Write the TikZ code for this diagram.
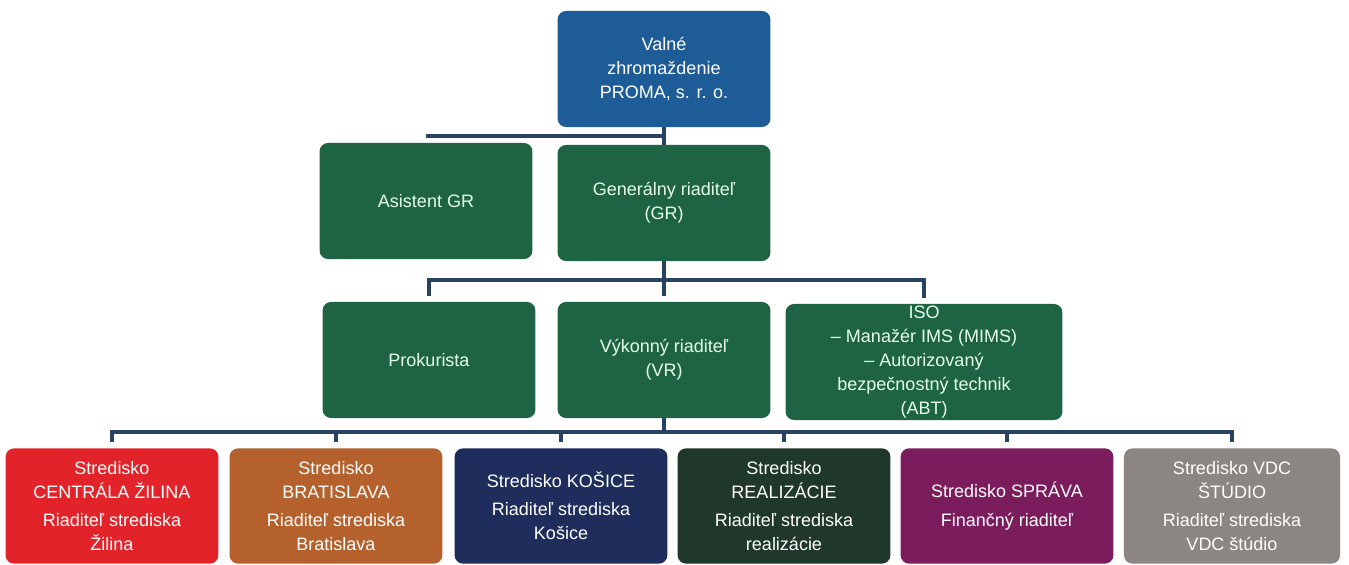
\documentclass[tikz,border=0pt]{standalone}
\usepackage{fontspec}
\setmainfont{Liberation Sans}
\usetikzlibrary{calc,positioning}

\definecolor{vzblue}{RGB}{29,92,150}
\definecolor{mgmtgreen}{RGB}{30,100,68}
\definecolor{zared}{RGB}{226,36,42}
\definecolor{babrown}{RGB}{180,97,46}
\definecolor{kenavy}{RGB}{30,45,92}
\definecolor{realgreen}{RGB}{31,56,42}
\definecolor{sppurple}{RGB}{123,29,93}
\definecolor{vdcgray}{RGB}{139,134,130}
\definecolor{linecol}{RGB}{40,66,98}

\begin{document}
\begin{tikzpicture}[x=0.025cm,y=-0.025cm,
box/.style = {rectangle, rounded corners=6pt, text=white, align=center,
              font=\fontsize{12.8}{17}\selectfont, minimum width=5.32cm,
              minimum height=2.9cm, inner sep=1pt},
mgmt/.style = {box, fill=mgmtgreen, text=white!90!green},
unit/.style = {box, minimum height=2.88cm},
line/.style = {draw=linecol, line width=2.2pt}]

\useasboundingbox (0,0) rectangle (1349,565);

% row 1
\node [box, fill=vzblue] (vz) at (664,69) {Valné\\zhromaždenie\\PROMA, s. r. o.};
% row 2
\node [mgmt] (asist) at (426,201) {Asistent GR};
\node [mgmt] (gr) at (664,203) {Generálny riaditeľ\\(GR)};
% row 3
\node [mgmt] (prok) at (429,360) {Prokurista};
\node [mgmt] (vr) at (664,360) {Výkonný riaditeľ\\(VR)};
\node [mgmt, minimum width=6.92cm] (iso) at (924,362)
  {ISO\\– Manažér IMS (MIMS)\\– Autorizovaný\\bezpečnostný technik\\(ABT)};
% row 4
\node [unit, fill=zared] (s1) at (112,506)
  {Stredisko\\CENTRÁLA ŽILINA\\[3pt]Riaditeľ strediska\\Žilina};
\node [unit, fill=babrown] (s2) at (336,506)
  {Stredisko\\BRATISLAVA\\[3pt]Riaditeľ strediska\\Bratislava};
\node [unit, fill=kenavy] (s3) at (561,506)
  {Stredisko KOŠICE\\[3pt]Riaditeľ strediska\\Košice};
\node [unit, fill=realgreen] (s4) at (784,506)
  {Stredisko\\REALIZÁCIE\\[3pt]Riaditeľ strediska\\realizácie};
\node [unit, fill=sppurple] (s5) at (1007,506)
  {Stredisko SPRÁVA\\[3pt]Finančný riaditeľ};
\node [unit, fill=vdcgray, minimum width=5.4cm] (s6) at (1232,506)
  {Stredisko VDC\\ŠTÚDIO\\[3pt]Riaditeľ strediska\\VDC štúdio};

\coordinate (bus1) at (664,136);
\coordinate (bus2) at (664,280);
\coordinate (bus3) at (664,432);

\begin{scope}[every path/.style=line]
\path (vz.south) -- (gr.north);
\path (bus1) -- (bus1 -| asist.north);

\path (gr.south) -- (bus2);
\path[shorten <=4pt, shorten >=4pt] (prok.north) |- (bus2) -| (iso.north);
\path[shorten >=4pt] (bus2) -- (vr.north);

\path (vr.south) -- (bus3);
\path[shorten <=4pt, shorten >=4pt] (s1.north) |- (bus3) -| (s6.north);
\foreach \i in {2,...,5}
  \path[shorten >=4pt] (bus3 -| s\i.north) -- (s\i.north);
\end{scope}
\end{tikzpicture}
\end{document}
